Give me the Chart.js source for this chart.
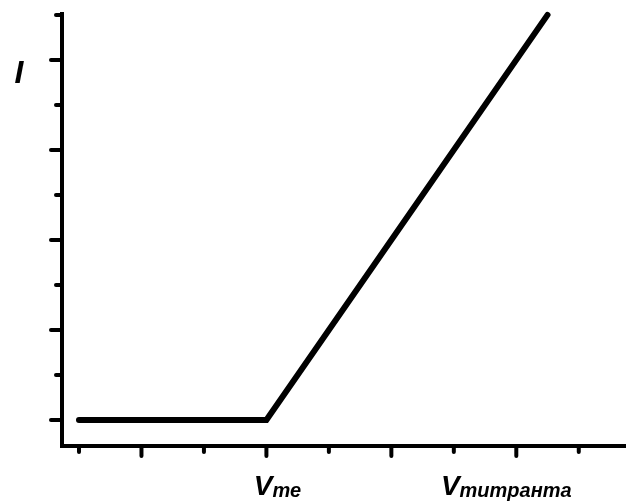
<!DOCTYPE html>
<html>
<head>
<meta charset="utf-8">
<script src="https://cdn.jsdelivr.net/npm/chart.js@4"></script>
<style>
  html, body { margin: 0; padding: 0; background: #fff; }
  #wrap { width: 629px; height: 504px; }
</style>
</head>
<body>
<div id="wrap"><canvas id="chart"></canvas></div>
<script>
// titration curve: current stays flat until the equivalence point, then rises
const volumeX = [0, 3, 7.5];
const currentY = [0, 0, 9];

const xTicks = [0, 1, 2, 3, 4, 5, 6, 7, 8];
const yTicks = [0, 1, 2, 3, 4, 5, 6, 7, 8, 9];
const xMajor = [1, 3, 5, 7];
const yMajor = [0, 2, 4, 6, 8];

const xLabelValues = [3, 7];
const xLabelMain = ['V', 'V'];
const xLabelSub = ['те', 'титранта'];
const yLabelValue = 8;
const yLabelText = 'I';

const FONT = '"Liberation Sans", Arial, sans-serif';
const labelShift = [11, -10];

const axisDecor = {
  id: 'axisDecor',
  afterDraw(chart) {
    const ctx = chart.ctx;
    const xs = chart.scales.x;
    const ys = chart.scales.y;
    const area = chart.chartArea;
    ctx.save();
    ctx.strokeStyle = '#000';
    ctx.lineWidth = 4;
    ctx.lineCap = 'round';

    xTicks.forEach(v => {
      const px = xs.getPixelForValue(v);
      const len = xMajor.includes(v) ? 10 : 6;
      ctx.beginPath();
      ctx.moveTo(px, area.bottom);
      ctx.lineTo(px, area.bottom + len);
      ctx.stroke();
    });
    yTicks.forEach(v => {
      const py = ys.getPixelForValue(v);
      const len = yMajor.includes(v) ? 11 : 6;
      ctx.beginPath();
      ctx.moveTo(area.left, py);
      ctx.lineTo(area.left - len, py);
      ctx.stroke();
    });

    ctx.fillStyle = '#000';
    ctx.textBaseline = 'alphabetic';
    ctx.textAlign = 'left';

    // x labels with subscripts
    xLabelValues.forEach((v, i) => {
      const px = xs.getPixelForValue(v);
      ctx.font = 'bold italic 28px ' + FONT;
      const wMain = ctx.measureText(xLabelMain[i]).width;
      ctx.font = 'bold italic 20px ' + FONT;
      const wSub = ctx.measureText(xLabelSub[i]).width;
      const left = px + labelShift[i] - (wMain + wSub) / 2;
      ctx.font = 'bold italic 28px ' + FONT;
      ctx.fillText(xLabelMain[i], left, 495);
      ctx.font = 'bold italic 20px ' + FONT;
      ctx.fillText(xLabelSub[i], left + wMain, 497);
    });

    // y label
    const py = ys.getPixelForValue(yLabelValue);
    ctx.font = 'bold italic 32px ' + FONT;
    ctx.textAlign = 'center';
    ctx.fillText(yLabelText, 19, py + 23);
    ctx.restore();
  }
};

new Chart(document.getElementById('chart'), {
  type: 'scatter',
  data: {
    datasets: [{
      data: volumeX.map((x, i) => ({ x: x, y: currentY[i] })),
      showLine: true,
      borderColor: '#000',
      borderWidth: 6,
      borderCapStyle: 'round',
      borderJoinStyle: 'miter',
      pointRadius: 0,
      clip: false
    }]
  },
  options: {
    responsive: true,
    maintainAspectRatio: false,
    animation: false,
    layout: { padding: { left: 62, right: 4, top: 14, bottom: 58 } },
    plugins: { legend: { display: false }, tooltip: { enabled: false } },
    scales: {
      x: {
        type: 'linear',
        min: -0.272,
        max: 8.74,
        ticks: { display: false },
        grid: { display: false, drawTicks: false },
        border: { display: true, color: '#000', width: 4 }
      },
      y: {
        type: 'linear',
        min: -0.58,
        max: 9.02,
        ticks: { display: false },
        grid: { display: false, drawTicks: false },
        border: { display: true, color: '#000', width: 4 }
      }
    }
  },
  plugins: [axisDecor]
});
</script>
</body>
</html>
